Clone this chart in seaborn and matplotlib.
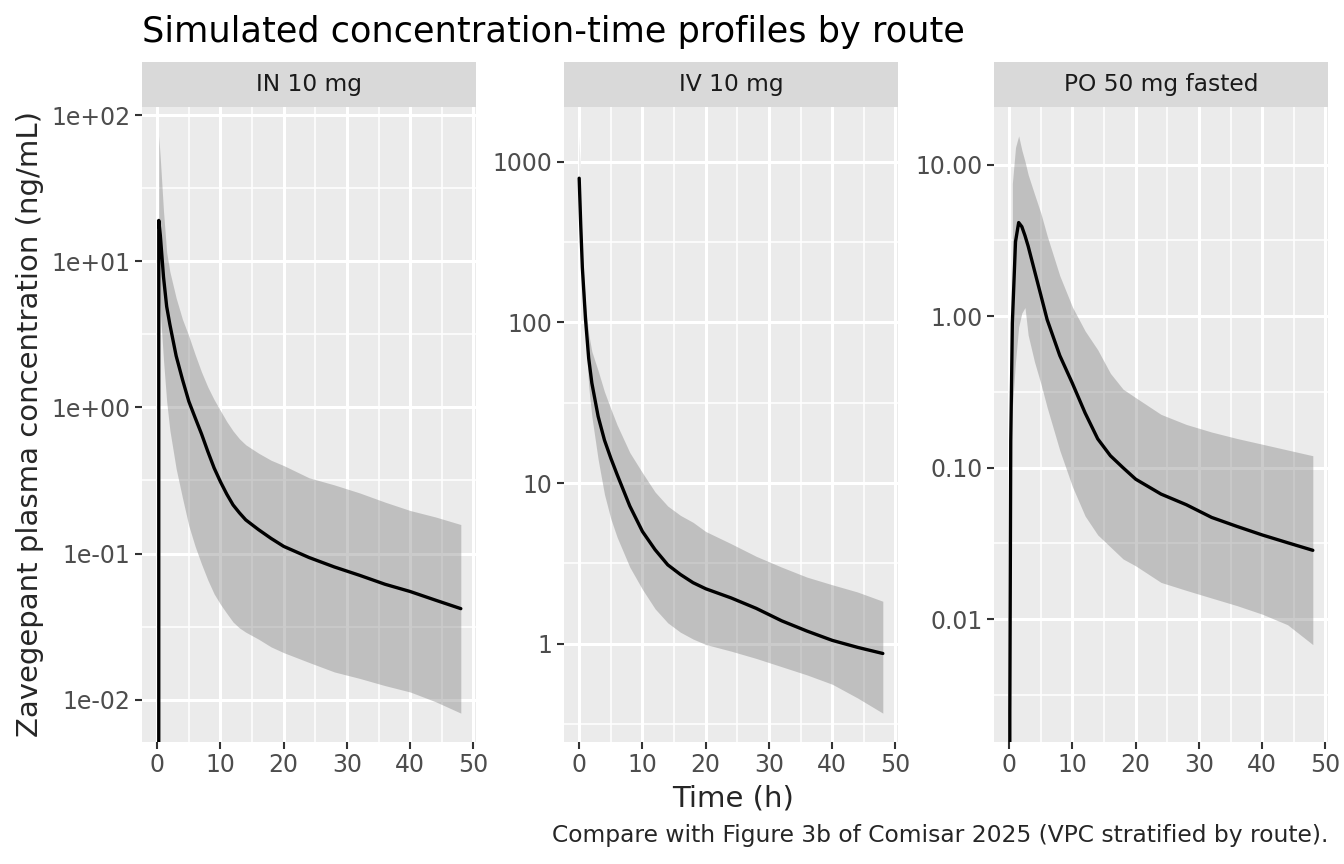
import numpy as np
import pandas as pd
import matplotlib
matplotlib.use("Agg")
import matplotlib.pyplot as plt
from matplotlib.patches import Rectangle
from matplotlib.ticker import NullFormatter
import seaborn as sns

# Routes (facet order)
routes = ["IN 10 mg", "IV 10 mg", "PO 50 mg fasted"]

# IN 10 mg - median and 5th/95th percentile band (ng/mL)
time_in = [0, 0.25, 0.5, 1, 1.5, 2, 3, 4, 5, 6, 7, 8, 9, 10, 11, 12, 13, 14, 16, 18, 20, 24, 28, 32, 36, 40, 44, 48]
median_in = [0, 19, 15, 7.8, 4.9, 3.7, 2.25, 1.55, 1.1, 0.85, 0.66, 0.50, 0.385, 0.31, 0.255, 0.215, 0.19, 0.17,
             0.146, 0.127, 0.112, 0.094, 0.081, 0.071, 0.0617, 0.055, 0.048, 0.042]
upper_in = [np.nan, 72, 50, 22, 11.5, 8.5, 5.6, 4.0, 3.08, 2.3, 1.75, 1.38, 1.13, 0.95, 0.80, 0.69, 0.61, 0.555,
            0.487, 0.435, 0.40, 0.33, 0.295, 0.26, 0.225, 0.197, 0.178, 0.158]
lower_in = [np.nan, 6.2, 4.5, 2.1, 1.1, 0.7, 0.38, 0.24, 0.155, 0.112, 0.085, 0.066, 0.053, 0.045, 0.039, 0.034,
            0.031, 0.029, 0.026, 0.023, 0.021, 0.018, 0.0155, 0.014, 0.0125, 0.0113, 0.0097, 0.0081]

# IV 10 mg
time_iv = [0, 0.25, 0.5, 1, 1.5, 2, 3, 4, 5, 6, 8, 10, 12, 14, 16, 18, 20, 24, 28, 32, 36, 40, 44, 48]
median_iv = [790, 400, 220, 105, 60, 42, 26, 18.5, 14.3, 11.3, 7.2, 5.0, 3.85, 3.1, 2.7, 2.4,
             2.2, 1.93, 1.66, 1.39, 1.2, 1.05, 0.95, 0.87]
upper_iv = [1450, 500, 260, 130, 85, 66, 50, 37, 29, 23, 15.5, 11.6, 8.8, 7.2, 6.3, 5.7,
            5.0, 4.2, 3.5, 3.0, 2.6, 2.33, 2.1, 1.84]
lower_iv = [600, 300, 170, 85, 40, 26, 14, 8.5, 6.0, 4.6, 3.0, 2.18, 1.65, 1.35, 1.18, 1.07,
            0.99, 0.9, 0.81, 0.72, 0.64, 0.56, 0.46, 0.37]

# PO 50 mg fasted
time_po = [0, 0.1, 0.25, 0.5, 1, 1.5, 2, 2.5, 3, 4, 5, 6, 8, 10, 12, 14, 16, 18, 20, 24, 28, 32, 36, 40, 44, 48]
median_po = [0, 0.0024, 0.15, 0.9, 3.1, 4.15, 3.9, 3.4, 2.9, 2.0, 1.38, 0.95, 0.55, 0.36, 0.23, 0.155,
             0.12, 0.1, 0.084, 0.067, 0.057, 0.047, 0.041, 0.036, 0.032, 0.0285]
upper_po = [np.nan, np.nan, np.nan, 7.5, 13, 15.5, 12.5, 10.5, 8.6, 6.4, 4.8, 3.4, 1.85, 1.15, 0.8, 0.6,
            0.42, 0.33, 0.29, 0.225, 0.193, 0.172, 0.156, 0.143, 0.131, 0.12]
lower_po = [np.nan, np.nan, np.nan, 0.25, 0.5, 0.85, 1.05, 1.14, 0.75, 0.5, 0.36, 0.25, 0.13, 0.075, 0.048,
            0.036, 0.03, 0.025, 0.0225, 0.0175, 0.0155, 0.0138, 0.0123, 0.0108, 0.0092, 0.0068]

# y-axis breaks and labels per facet
yticks = {
    "IN 10 mg": [1e-2, 1e-1, 1e0, 1e1, 1e2],
    "IV 10 mg": [1, 10, 100, 1000],
    "PO 50 mg fasted": [0.01, 0.1, 1, 10],
}
ylabels = {
    "IN 10 mg": ["1e-02", "1e-01", "1e+00", "1e+01", "1e+02"],
    "IV 10 mg": ["1", "10", "100", "1000"],
    "PO 50 mg fasted": ["0.01", "0.10", "1.00", "10.00"],
}
xticks = [0, 10, 20, 30, 40, 50]

frames = []
for r, t, m, u, l in [
    (routes[0], time_in, median_in, upper_in, lower_in),
    (routes[1], time_iv, median_iv, upper_iv, lower_iv),
    (routes[2], time_po, median_po, upper_po, lower_po),
]:
    frames.append(pd.DataFrame({"route": r, "time": t, "median": m, "upper": u, "lower": l}))
df = pd.concat(frames, ignore_index=True)

sns.set_theme(style="darkgrid", rc={
    "axes.facecolor": "#EBEBEB",
    "grid.color": "white",
    "axes.edgecolor": "none",
})
plt.rcParams["font.family"] = ["DejaVu Sans"]

W, H = 1344, 864
fig = plt.figure(figsize=(W / 100, H / 100), dpi=100)

panel_left = [142, 564, 994]
panel_w = 334
panel_top, panel_bottom = 107, 742
strip_h = 45

for i, route in enumerate(routes):
    left = panel_left[i]
    ax = fig.add_axes([left / W, (H - panel_bottom) / H, panel_w / W, (panel_bottom - panel_top) / H])
    d = df[df["route"] == route]

    ax.fill_between(d["time"], d["lower"], d["upper"], color="#7F7F7F", alpha=0.4, linewidth=0, zorder=2)
    sns.lineplot(data=d, x="time", y="median", color="black", linewidth=2.4, ax=ax, zorder=3)

    ax.set_yscale("log")
    vals = d[["median", "upper", "lower"]].to_numpy().ravel()
    vals = vals[np.isfinite(vals) & (vals > 0)]
    lo, hi = np.log10(vals.min()), np.log10(vals.max())
    pad = 0.05 * (hi - lo)

    major = yticks[route]
    ax.set_yticks(major, ylabels[route])
    minor = [10 ** (np.log10(major[0]) - 0.5)] + [10 ** (np.log10(v) + 0.5) for v in major]
    ax.set_yticks(minor, minor=True)
    ax.yaxis.set_minor_formatter(NullFormatter())
    ax.set_ylim(10 ** (lo - pad), 10 ** (hi + pad))
    ax.set_xlim(-2.4, 50.4)
    ax.set_xticks(xticks)
    ax.set_xticks([5, 15, 25, 35, 45], minor=True)

    ax.grid(which="major", color="white", linewidth=2.2)
    ax.grid(which="minor", color="white", linewidth=1.1)
    ax.tick_params(which="major", length=4.7, width=1.5, color="#333333", labelsize=17,
                   labelcolor="#4D4D4D", pad=3.5, bottom=True, left=True)
    ax.tick_params(which="minor", length=0)
    for s in ax.spines.values():
        s.set_visible(False)
    ax.set_xlabel("")
    ax.set_ylabel("")

    # facet strip
    sh = strip_h / (panel_bottom - panel_top)
    ax.add_patch(Rectangle((0, 1), 1, sh, transform=ax.transAxes, facecolor="#D9D9D9",
                           edgecolor="none", clip_on=False))
    ax.text(0.5, 1 + sh / 2, route, transform=ax.transAxes, ha="center", va="center",
            fontsize=16.8, color="#1A1A1A")

fig.text(142 / W, 1 - 42 / H, "Simulated concentration-time profiles by route",
         fontsize=25.3, ha="left", va="baseline", color="black")
fig.text(733 / W, 1 - 806 / H, "Time (h)", fontsize=21, ha="center", va="baseline")
fig.text(30 / W, 1 - 424 / H, "Zavegepant plasma concentration (ng/mL)", fontsize=21,
         rotation=90, ha="center", va="center")
fig.text(1328 / W, 1 - 842 / H, "Compare with Figure 3b of Comisar 2025 (VPC stratified by route).",
         fontsize=16.8, ha="right", va="baseline")

fig.savefig("out.png", dpi=100, facecolor="white")
